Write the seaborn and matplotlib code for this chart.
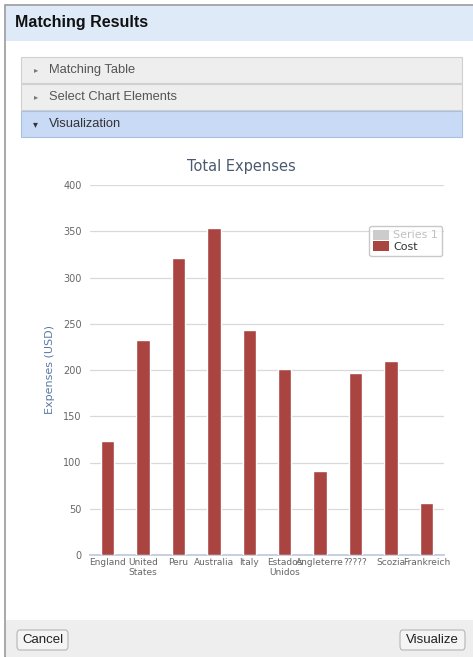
import pandas as pd
import seaborn as sns
import matplotlib.pyplot as plt
from matplotlib.patches import Rectangle, FancyBboxPatch, Patch

# Chart data
countries = ['England', 'United\nStates', 'Peru', 'Australia', 'Italy',
             'Estados\nUnidos', 'Angleterre', '?????', 'Scozia', 'Frankreich']
cost = [123, 232, 321, 354, 243, 201, 91, 197, 210, 56]
y_ticks = [0, 50, 100, 150, 200, 250, 300, 350, 400]

W, H = 473, 657
sns.set_theme(style='white')
plt.rcParams['font.family'] = ['DejaVu Sans']
UI = ['Liberation Sans', 'DejaVu Sans']

fig = plt.figure(figsize=(W / 100, H / 100), dpi=100)
fig.patch.set_facecolor('white')


def box(x, y, w, h, fc, ec='none', lw=0.8, round_=False):
    # pixel coordinates measured from top left corner
    if round_:
        p = FancyBboxPatch((x / W, 1 - (y + h) / H), w / W, h / H,
                           boxstyle='round,pad=0,rounding_size=0.006',
                           transform=fig.transFigure, fc=fc, ec=ec, lw=lw, zorder=-5)
    else:
        p = Rectangle((x / W, 1 - (y + h) / H), w / W, h / H,
                      transform=fig.transFigure, fc=fc, ec=ec, lw=lw, zorder=-5)
    fig.add_artist(p)


def label(x, y, s, **kw):
    fig.text(x / W, 1 - y / H, s, va='center', **kw)


# dialog frame and header
box(5, 5, 470, 652, 'white', ec='#9a9a9a', lw=1.2)
box(6, 6, 467, 35, '#dfeaf9')
label(15, 23, 'Matching Results', fontsize=11.5, fontweight='bold',
      color='#111111', family=UI)

# accordion rows
box(21, 57, 441, 26, '#eeeeee', ec='#d0d0d0')
box(21, 84, 441, 26, '#eeeeee', ec='#d0d0d0')
box(21, 111, 441, 26, '#c9daf6', ec='#a9bfe0')
label(34, 70, '\u25b8', fontsize=6, color='#777777')
label(34, 97, '\u25b8', fontsize=6, color='#777777')
label(33, 124, '\u25be', fontsize=7, color='#333333')
label(49, 70, 'Matching Table', fontsize=9.3, color='#555555', family=UI)
label(49, 97, 'Select Chart Elements', fontsize=9.3, color='#555555', family=UI)
label(49, 124, 'Visualization', fontsize=9.3, color='#333333', family=UI)

# footer with buttons
box(6, 620, 467, 37, '#eeeeee')
box(17, 630, 51, 20, '#f4f4f4', ec='#b5b5b5', round_=True)
box(400, 630, 65, 20, '#f4f4f4', ec='#b5b5b5', round_=True)
label(42.5, 640, 'Cancel', fontsize=9.5, color='#222222', ha='center', family=UI)
label(432.5, 640, 'Visualize', fontsize=9.5, color='#222222', ha='center', family=UI)

# chart
ax = fig.add_axes([90 / W, 1 - 555 / H, 354 / W, 370 / H])
ax.set_zorder(5)
df = pd.DataFrame({'country': countries, 'cost': cost})
sns.barplot(data=df, x='country', y='cost', color='#a94441', width=0.38,
            saturation=1, ax=ax, zorder=3)
ax.set_ylim(0, 400)
ax.set_yticks(y_ticks)
ax.set_xlim(-0.5, len(countries) - 0.5)
ax.grid(axis='y', color='#d9d9d9', lw=0.9, zorder=0)
ax.set_axisbelow(True)
ax.set_facecolor('none')
for s in ['top', 'right', 'left']:
    ax.spines[s].set_visible(False)
ax.spines['bottom'].set_color('#c0cadb')
ax.tick_params(axis='y', length=0, labelsize=7, labelcolor='#666666', pad=6)
ax.tick_params(axis='x', length=0, labelsize=6.5, labelcolor='#666666', pad=2)
ax.set_xticks([i + 0.5 for i in range(len(countries) - 1)], minor=True)
ax.tick_params(axis='x', which='minor', length=4, color='#c0cadb')
ax.set_xlabel('')
ax.set_ylabel('Expenses (USD)', fontsize=8, color='#5b7aa3', labelpad=6)
ax.set_title('')
fig.text(241 / W, 1 - 166 / H, 'Total Expenses', fontsize=10.5,
         color='#4a5a70', ha='center', va='center')

handles = [Patch(fc='#cccccc', ec='none'), Patch(fc='#a94441', ec='none')]
leg = ax.legend(handles, ['Series 1', 'Cost'], loc='upper right',
                bbox_to_anchor=(1.01, 0.905), fontsize=8, frameon=True,
                fancybox=True, edgecolor='#bbbbbb', handlelength=1.4,
                handleheight=1.0, handletextpad=0.4, borderpad=0.35,
                labelspacing=0.1)
leg.get_texts()[0].set_color('#c0c0c0')
leg.get_texts()[1].set_color('#333333')
leg.get_frame().set_linewidth(1.0)

fig.savefig('out.png', dpi=100)
